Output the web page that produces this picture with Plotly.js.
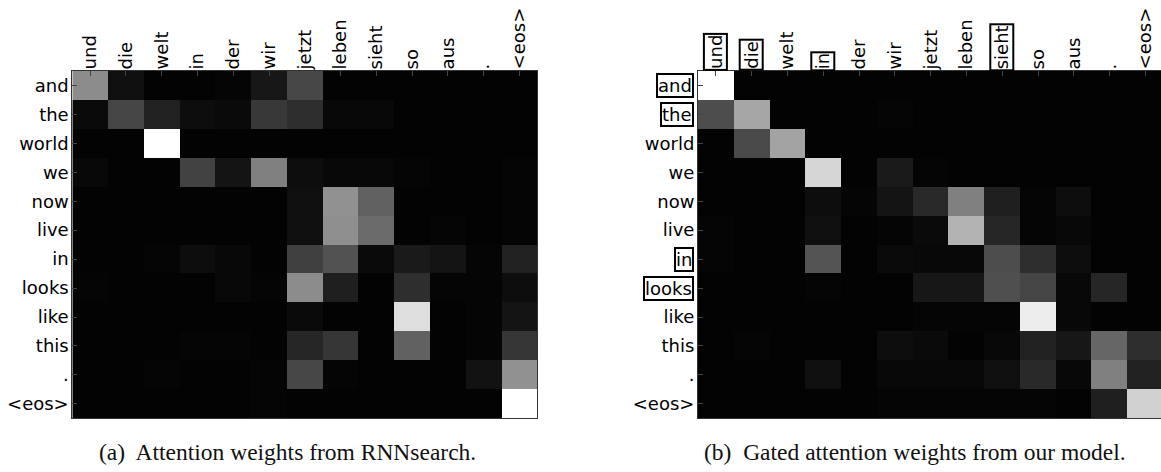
<!DOCTYPE html>
<html><head><meta charset="utf-8">
<script src="https://cdn.plot.ly/plotly-3.0.1.min.js"></script>
<style>html,body{margin:0;padding:0;overflow:hidden;background:#fff;} #chart{width:1170px;height:472px;}</style>
</head><body><div id="chart"></div><script>
const sourceWords = ['und','die','welt','in','der','wir','jetzt','leben','sieht','so','aus','.','<eos>'];
const targetWords = ['and','the','world','we','now','live','in','looks','like','this','.','<eos>'];

// rows = target words, columns = source words
const rnnsearchWeights = [
  [0.55,0.06,0.01,0.01,0.02,0.09,0.28,0.01,0.01,0.01,0.01,0.01,0.01],
  [0.04,0.27,0.13,0.05,0.04,0.22,0.18,0.03,0.03,0.01,0.01,0.01,0.01],
  [0.01,0.01,1.00,0.01,0.01,0.01,0.01,0.01,0.01,0.01,0.01,0.01,0.01],
  [0.03,0.01,0.01,0.26,0.08,0.50,0.05,0.03,0.03,0.02,0.01,0.01,0.02],
  [0.01,0.01,0.01,0.01,0.01,0.01,0.06,0.57,0.38,0.01,0.01,0.01,0.02],
  [0.01,0.01,0.01,0.01,0.01,0.01,0.06,0.56,0.42,0.01,0.02,0.01,0.02],
  [0.01,0.01,0.02,0.05,0.03,0.01,0.25,0.32,0.04,0.10,0.08,0.02,0.13],
  [0.02,0.01,0.01,0.01,0.03,0.02,0.55,0.12,0.01,0.18,0.02,0.02,0.05],
  [0.01,0.01,0.01,0.01,0.01,0.01,0.04,0.01,0.01,0.87,0.01,0.02,0.08],
  [0.01,0.01,0.01,0.02,0.02,0.01,0.15,0.21,0.01,0.38,0.01,0.02,0.21],
  [0.01,0.01,0.02,0.01,0.01,0.02,0.28,0.02,0.01,0.01,0.01,0.07,0.57],
  [0.01,0.01,0.01,0.01,0.01,0.02,0.01,0.01,0.01,0.01,0.01,0.01,1.00]
];
const gatedWeights = [
  [1.00,0.01,0.01,0.01,0.01,0.01,0.01,0.01,0.01,0.01,0.01,0.01,0.01],
  [0.30,0.65,0.01,0.01,0.01,0.02,0.01,0.01,0.01,0.01,0.01,0.01,0.01],
  [0.01,0.29,0.64,0.01,0.01,0.01,0.01,0.01,0.01,0.01,0.01,0.01,0.01],
  [0.01,0.01,0.01,0.84,0.01,0.10,0.02,0.01,0.01,0.01,0.01,0.01,0.01],
  [0.01,0.01,0.01,0.05,0.02,0.08,0.16,0.50,0.12,0.02,0.05,0.01,0.01],
  [0.02,0.01,0.01,0.06,0.01,0.02,0.04,0.70,0.15,0.02,0.03,0.01,0.01],
  [0.02,0.01,0.01,0.33,0.01,0.04,0.03,0.03,0.30,0.18,0.05,0.01,0.01],
  [0.01,0.01,0.01,0.02,0.01,0.01,0.09,0.09,0.31,0.27,0.03,0.15,0.01],
  [0.01,0.01,0.01,0.01,0.01,0.01,0.02,0.02,0.02,0.93,0.03,0.01,0.01],
  [0.01,0.02,0.01,0.01,0.01,0.05,0.04,0.01,0.03,0.13,0.09,0.40,0.18],
  [0.01,0.01,0.01,0.06,0.01,0.03,0.03,0.03,0.06,0.16,0.03,0.50,0.13],
  [0.01,0.01,0.01,0.01,0.01,0.02,0.02,0.02,0.02,0.02,0.01,0.12,0.82]
];
const boxedSource = ['und','die','in','sieht'];
const boxedTarget = ['and','the','in','looks'];
const captionA = '(a)&nbsp; Attention weights from RNNsearch.';
const captionB = '(b)&nbsp; Gated attention weights from our model.';

const W = 1170, H = 472;
const esc = s => s.replace(/&/g,'&amp;').replace(/</g,'&lt;').replace(/>/g,'&gt;');
const labelFont = {family:'DejaVu Sans', size:18, color:'#000'};
const yDom = [1 - 418.3/H, 1 - 71/H];
const xDomA = [72.3/W, 537.3/W];
const xDomB = [698/W, 1163.4/W];

const grayScale = [[0,'#000000'],[1,'#ffffff']];
function hm(z, xa, ya) {
  return {type:'heatmap', z:z, x:sourceWords, y:targetWords, xaxis:xa, yaxis:ya,
    colorscale:grayScale, zmin:0, zmax:1, showscale:false, hoverinfo:'skip', xgap:0, ygap:0};
}
function xAxis(dom, anchor, boxed) {
  return {domain:dom, anchor:anchor, side:'top', type:'category',
    tickvals:sourceWords, ticktext:sourceWords.map(w => boxed.includes(w) ? '' : esc(w)),
    tickangle:-90, ticks:'inside', ticklen:5, tickcolor:'#444', tickwidth:1,
    ticklabelstandoff:-3,
    showline:true, mirror:true, linecolor:'#333', linewidth:1,
    showgrid:false, zeroline:false, tickfont:labelFont, fixedrange:true};
}
function yAxis(dom, anchor, boxed) {
  return {domain:dom, anchor:anchor, type:'category', autorange:'reversed',
    tickvals:targetWords, ticktext:targetWords.map(w => boxed.includes(w) ? '' : esc(w)),
    ticks:'inside', ticklen:5, tickcolor:'#444', tickwidth:1,
    ticklabelstandoff:-1,
    showline:true, mirror:true, linecolor:'#333', linewidth:1,
    showgrid:false, zeroline:false, tickfont:labelFont, fixedrange:true};
}

const annotations = [];
boxedSource.forEach(w => annotations.push({xref:'x2', yref:'paper', x:w, y:yDom[1],
  xanchor:'center', yanchor:'bottom', textangle:-90, text:esc(w), font:labelFont,
  showarrow:false, bordercolor:'#000', borderwidth:2, borderpad:0}));
boxedTarget.forEach(w => annotations.push({xref:'paper', yref:'y2', x:xDomB[0], y:w,
  xanchor:'right', yanchor:'middle', xshift:-4.5, text:esc(w), font:labelFont,
  showarrow:false, bordercolor:'#000', borderwidth:2, borderpad:0}));
const capFont = {family:'Liberation Serif', size:23.5, color:'#111'};
annotations.push({xref:'paper', yref:'paper', x:287/W, y:1-452/H, xanchor:'center', yanchor:'middle',
  text:captionA, font:capFont, showarrow:false});
annotations.push({xref:'paper', yref:'paper', x:915/W, y:1-452/H, xanchor:'center', yanchor:'middle',
  text:captionB, font:capFont, showarrow:false});

const layout = {
  width:W, height:H, margin:{l:0,r:0,t:0,b:0},
  paper_bgcolor:'#fff', plot_bgcolor:'#fff', showlegend:false,
  xaxis:xAxis(xDomA,'y',[]), yaxis:yAxis(yDom,'x',[]),
  xaxis2:xAxis(xDomB,'y2',boxedSource), yaxis2:yAxis(yDom,'x2',boxedTarget),
  annotations:annotations
};
Plotly.newPlot('chart', [hm(rnnsearchWeights,'x','y'), hm(gatedWeights,'x2','y2')], layout,
  {staticPlot:true, displayModeBar:false});
</script></body></html>
